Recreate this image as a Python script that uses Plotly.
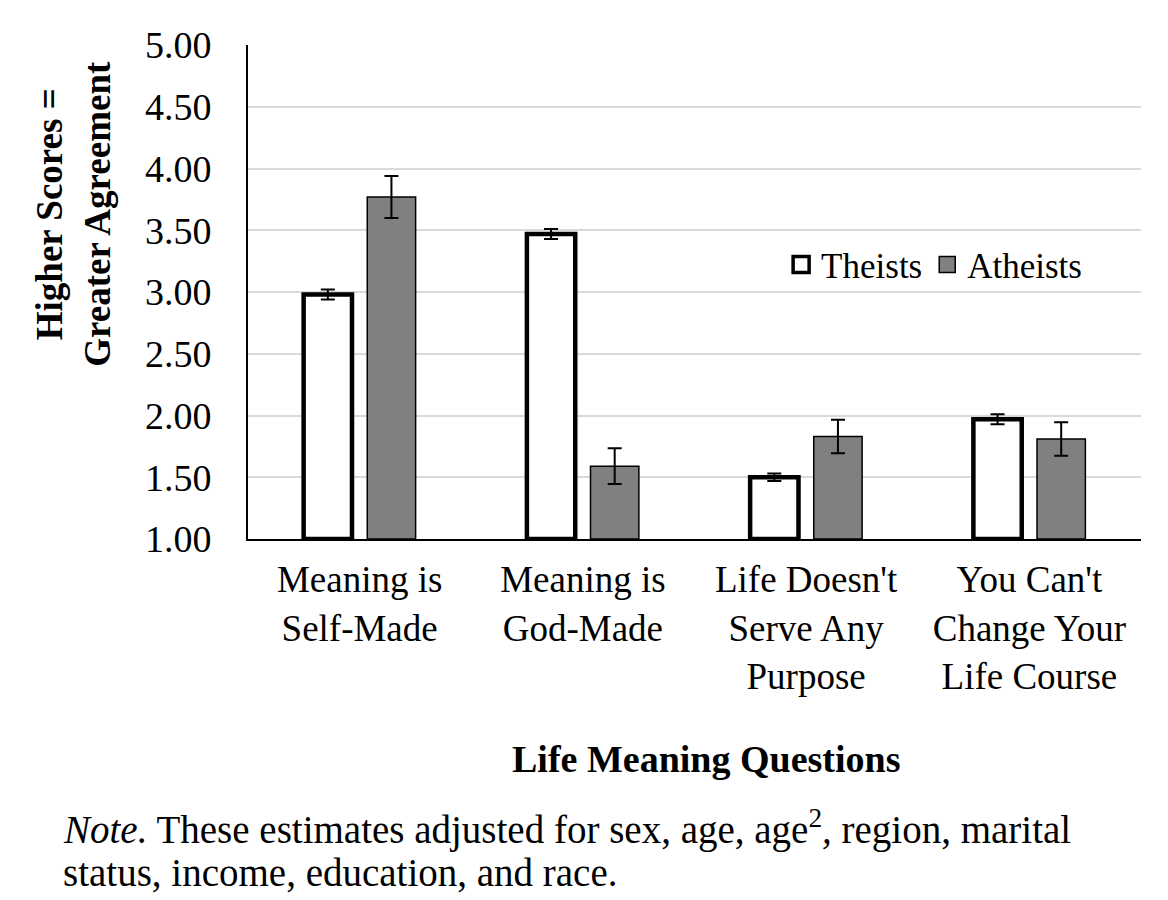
import plotly.graph_objects as go

categories = ["Meaning is<br>Self-Made", "Meaning is<br>God-Made",
              "Life Doesn't<br>Serve Any<br>Purpose", "You Can't<br>Change Your<br>Life Course"]
theists = [2.98, 3.47, 1.50, 1.97]
theists_err = [0.04, 0.04, 0.03, 0.04]
atheists = [3.77, 1.59, 1.83, 1.81]
atheists_err = [0.17, 0.145, 0.135, 0.135]
y_ticks = [1.0, 1.5, 2.0, 2.5, 3.0, 3.5, 4.0, 4.5, 5.0]
BASE = 1.0

FONT = "Liberation Serif, Times New Roman, serif"

fig = go.Figure()
fig.add_trace(go.Bar(
    name="Theists", x=categories, y=[v - BASE for v in theists], base=BASE,
    marker=dict(color="white", line=dict(color="black", width=4.5)),
    error_y=dict(type="data", array=theists_err, color="black", thickness=2, width=7),
    showlegend=False,
))
fig.add_trace(go.Bar(
    name="Atheists", x=categories, y=[v - BASE for v in atheists], base=BASE,
    marker=dict(color="#808080", line=dict(color="black", width=1.5)),
    error_y=dict(type="data", array=atheists_err, color="black", thickness=2, width=7),
    showlegend=False,
))
# legend-only proxies (larger square symbols like the reference)
fig.add_trace(go.Scatter(name="Theists", x=[None], y=[None], mode="markers",
                         marker=dict(symbol="square", size=16, color="white",
                                     line=dict(color="black", width=3.5))))
fig.add_trace(go.Scatter(name="Atheists", x=[None], y=[None], mode="markers",
                         marker=dict(symbol="square", size=16, color="#808080",
                                     line=dict(color="black", width=1.5))))

fig.update_layout(
    width=1168, height=900,
    margin=dict(l=240, r=35, t=37, b=369),
    paper_bgcolor="white", plot_bgcolor="white",
    font=dict(family=FONT, size=38, color="black"),
    barmode="group", bargap=0.43, bargroupgap=0.24,
    showlegend=True,
    legend=dict(orientation="h", x=0.597, y=0.555, xanchor="left", yanchor="middle",
                font=dict(size=35), bgcolor="rgba(0,0,0,0)", itemwidth=30,
                traceorder="normal"),
)
fig.update_yaxes(range=[1, 5], tickvals=y_ticks, ticktext=[f"{v:.2f}" for v in y_ticks],
                 showgrid=True, gridcolor="#d9d9d9", gridwidth=2,
                 showline=True, linecolor="black", linewidth=2, ticks="",
                 tickfont=dict(size=38), zeroline=False, ticklabelstandoff=27)
fig.update_xaxes(showline=True, linecolor="black", linewidth=2, ticks="",
                 tickfont=dict(size=37), ticklabelstandoff=7, tickangle=0)

fig.add_annotation(text="<b>Higher Scores =<br>Greater Agreement</b>", textangle=-90,
                   xref="paper", yref="paper", x=-0.195, y=0.658, showarrow=False,
                   font=dict(size=37), xanchor="center", yanchor="middle")
fig.add_annotation(text="<b>Life Meaning Questions</b>",
                   xref="paper", yref="paper", x=0.513, y=-0.445, showarrow=False,
                   font=dict(size=38), xanchor="center", yanchor="middle")
fig.add_annotation(text="<i>Note.</i> These estimates adjusted for sex, age, age<sup>2</sup><i>,</i> region, marital",
                   xref="paper", yref="paper", x=-0.2094, y=-0.585, showarrow=False,
                   font=dict(size=39), xanchor="left", yanchor="middle", align="left")
fig.add_annotation(text="status, income, education, and race.",
                   xref="paper", yref="paper", x=-0.2094, y=-0.676, showarrow=False,
                   font=dict(size=39), xanchor="left", yanchor="middle", align="left")

fig.write_html("out.html")
